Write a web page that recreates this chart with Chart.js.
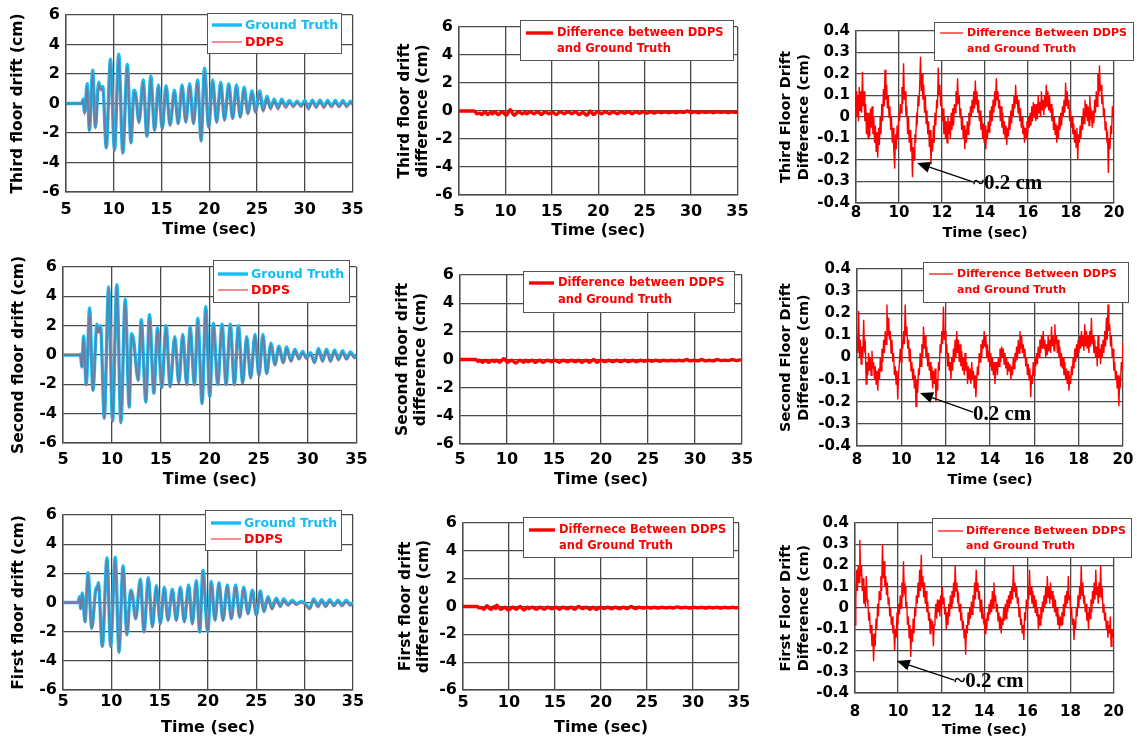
<!DOCTYPE html>
<html>
<head>
<meta charset="utf-8">
<title>Floor drift: DDPS vs ground truth</title>
<script src="https://cdn.jsdelivr.net/npm/chart.js@4.4.1/dist/chart.umd.min.js"></script>
<style>
  html, body { margin: 0; padding: 0; background: #fff; }
  #fig { position: relative; width: 1137px; height: 740px; overflow: hidden; background: #fff; }
  #fig canvas { position: absolute; }
</style>
</head>
<body>
<div id="fig"></div>
<script>
// ---------- tick values ----------
const fullTimeTicks = [5, 10, 15, 20, 25, 30, 35];
const zoomTimeTicks = [8, 10, 12, 14, 16, 18, 20];
const driftTicks = [-6, -4, -2, 0, 2, 4, 6];
const zoomDiffTicks = [-0.4, -0.3, -0.2, -0.1, 0, 0.1, 0.2, 0.3, 0.4];

// ---------- third floor: peak / trough times (s) and drift (cm) ----------
const t3 = [5, 6.65, 6.8, 6.95, 7.22, 7.45, 7.8, 8.08, 8.42, 8.62,
  8.85, 9.22, 9.65, 10.08, 10.52, 10.95, 11.42, 11.8, 12.12, 12.3,
  12.65, 13.08, 13.48, 13.88, 14.28, 14.68, 15.08, 15.48, 15.9, 16.35,
  16.75, 17.15, 17.55, 17.95, 18.35, 18.78, 19.15, 19.5, 19.95, 20.35,
  20.78, 21.2, 21.6, 22.05, 22.45, 22.85, 23.25, 23.65, 24.05, 24.48,
  24.85, 25.28, 25.65, 26.05, 26.42, 26.8, 27.2, 27.6, 28.0, 28.4,
  28.8, 29.2, 29.6, 30.0, 30.4, 30.8, 31.2, 31.6, 32.0, 32.4,
  32.8, 33.2, 33.6, 34.0, 34.4, 34.8, 35];
const gt3 = [0, 0, 0.3, -0.6, 1.35, -1.8, 2.25, -1.6, 1.45, 1.0,
  1.15, -3.0, 3.0, -3.15, 3.35, -3.35, 2.65, -2.65, 0.9, 0.65,
  -1.25, 1.6, -2.2, 1.85, -1.8, 1.25, -1.7, 1.2, -1.45, 0.9,
  -1.35, 1.25, -1.25, 1.35, -1.35, 1.6, -2.5, 2.4, -1.6, 1.6,
  -1.25, 1.45, -1.1, 1.35, -1.0, 1.25, -0.9, 1.1, -0.65, 0.85,
  -0.55, 0.85, -0.45, 0.5, -0.3, 0.3, -0.3, 0.3, -0.2, 0.2,
  -0.15, 0.15, -0.15, 0.2, -0.3, 0.22, -0.2, 0.22, -0.2, 0.2,
  -0.18, 0.2, -0.18, 0.2, -0.15, 0.15, 0];
const ddps3 = [0, 0, 0.2, -0.8, 1.2, -1.95, 2.1, -1.75, 1.3, 0.85,
  1.0, -3.1, 2.85, -3.25, 3.15, -3.45, 2.5, -2.75, 0.75, 0.5,
  -1.4, 1.45, -2.3, 1.7, -1.9, 1.1, -1.8, 1.05, -1.55, 0.75,
  -1.45, 1.1, -1.35, 1.2, -1.45, 1.45, -2.65, 2.2, -1.75, 1.45,
  -1.35, 1.3, -1.2, 1.2, -1.1, 1.1, -1.0, 0.95, -0.8, 0.7,
  -0.7, 0.7, -0.6, 0.35, -0.45, 0.15, -0.45, 0.15, -0.35, 0.05,
  -0.3, 0.05, -0.25, 0.05, -0.45, 0.1, -0.35, 0.1, -0.35, 0.08,
  -0.3, 0.08, -0.3, 0.08, -0.3, 0.05, -0.15];
const diff3 = [0, 0, -0.1, -0.2, -0.15, -0.25, -0.05, -0.25, -0.1, -0.2,
  -0.05, -0.25, -0.05, -0.3, 0.1, -0.3, -0.05, -0.2, -0.1, -0.2,
  -0.05, -0.2, -0.05, -0.25, -0.05, -0.2, -0.1, -0.25, -0.05, -0.2,
  -0.05, -0.2, -0.05, -0.25, -0.1, -0.3, 0.0, -0.25, -0.05, -0.2,
  -0.05, -0.2, -0.05, -0.2, -0.05, -0.15, -0.05, -0.2, -0.05, -0.15,
  -0.05, -0.15, -0.05, -0.15, -0.05, -0.12, -0.05, -0.12, -0.05, -0.12,
  -0.05, -0.1, 0.0, -0.12, -0.05, -0.12, -0.05, -0.1, -0.05, -0.12,
  -0.05, -0.1, -0.05, -0.12, -0.05, -0.1, -0.08];

// ---------- second floor ----------
const t2 = [5, 6.7, 6.77, 6.94, 7.1, 7.38, 7.72, 8.06, 8.47, 8.65,
  8.84, 9.22, 9.66, 10.07, 10.5, 10.92, 11.36, 11.77, 12.0, 12.21,
  12.69, 13.0, 13.47, 13.84, 14.29, 14.66, 15.1, 15.54, 15.95, 16.43,
  16.84, 17.24, 17.65, 17.99, 18.44, 18.78, 19.22, 19.59, 20.0, 20.37,
  20.82, 21.26, 21.67, 22.1, 22.52, 22.93, 23.37, 23.78, 24.18, 24.63,
  25.03, 25.44, 25.82, 26.26, 26.67, 27.07, 27.52, 27.86, 28.3, 28.71,
  29.12, 29.49, 29.9, 30.31, 30.71, 31.12, 31.53, 31.94, 32.35, 32.76,
  33.16, 33.57, 33.98, 34.39, 34.8, 35];
const gt2 = [0, 0, 0.05, -0.8, 1.3, -2.0, 3.2, -2.4, 2.1, 1.6,
  2.0, -4.3, 4.65, -4.5, 4.8, -4.6, 3.8, -3.55, 1.45, 1.05,
  -1.7, 2.4, -3.2, 2.75, -2.6, 1.85, -2.2, 2.0, -2.15, 1.25,
  -1.9, 1.4, -2.0, 1.9, -2.0, 2.5, -3.3, 3.3, -2.85, 2.15,
  -2.0, 2.1, -2.0, 2.1, -2.0, 2.0, -1.9, 1.25, -1.55, 1.4,
  -1.4, 1.4, -1.25, 0.8, -0.65, 0.6, -0.5, 0.55, -0.4, 0.4,
  -0.25, 0.25, -0.2, 0.15, -0.5, 0.45, -0.4, 0.4, -0.4, 0.35,
  -0.3, 0.3, -0.25, 0.2, -0.15, 0];
const ddps2 = [0, 0, 0.0, -0.9, 1.2, -2.15, 3.1, -2.5, 2.0, 1.5,
  1.9, -4.4, 4.55, -4.6, 4.7, -4.7, 3.7, -3.65, 1.35, 0.95,
  -1.8, 2.3, -3.3, 2.65, -2.7, 1.75, -2.3, 1.9, -2.25, 1.15,
  -2.0, 1.3, -2.1, 1.8, -2.1, 2.4, -3.4, 3.2, -2.95, 2.05,
  -2.1, 2.0, -2.1, 2.0, -2.1, 1.9, -2.0, 1.15, -1.65, 1.3,
  -1.5, 1.3, -1.35, 0.7, -0.75, 0.5, -0.6, 0.45, -0.5, 0.3,
  -0.35, 0.15, -0.3, 0.05, -0.6, 0.35, -0.5, 0.3, -0.5, 0.25,
  -0.4, 0.2, -0.35, 0.1, -0.25, -0.1];
const diff2 = [0, 0, -0.05, -0.15, -0.05, -0.2, -0.05, -0.2, -0.05, -0.15,
  -0.05, -0.2, 0.05, -0.2, -0.05, -0.25, -0.05, -0.2, -0.05, -0.15,
  -0.05, -0.2, -0.05, -0.2, -0.05, -0.15, -0.05, -0.2, -0.05, -0.15,
  -0.05, -0.15, -0.05, -0.2, -0.05, -0.2, 0.0, -0.2, -0.05, -0.15,
  -0.05, -0.15, -0.05, -0.15, -0.05, -0.15, -0.05, -0.15, -0.05, -0.12,
  -0.05, -0.12, -0.05, -0.12, -0.05, -0.1, -0.05, -0.1, -0.05, -0.1,
  0.0, -0.1, -0.05, -0.1, 0.0, -0.1, -0.05, -0.1, 0.0, -0.08,
  -0.05, -0.08, 0.0, -0.08, -0.03, -0.05];

// ---------- first floor ----------
const t1 = [5, 6.55, 6.72, 6.83, 7.0, 7.28, 7.59, 7.97, 8.45, 8.55,
  8.66, 9.07, 9.55, 9.93, 10.41, 10.79, 11.21, 11.62, 12.0, 12.17,
  12.52, 13.0, 13.38, 13.83, 14.24, 14.66, 15.07, 15.48, 15.86, 16.31,
  16.72, 17.14, 17.55, 18.0, 18.38, 18.79, 19.14, 19.48, 19.97, 20.34,
  20.72, 21.14, 21.55, 22.0, 22.41, 22.86, 23.28, 23.69, 24.14, 24.59,
  25.0, 25.41, 25.79, 26.21, 26.62, 27.07, 27.48, 27.83, 28.28, 28.72,
  29.14, 29.66, 30.1, 30.52, 30.93, 31.38, 31.76, 32.17, 32.59, 33.03,
  33.45, 33.86, 34.31, 34.72, 35];
const gt1 = [0, 0, 0.4, -0.4, 0.65, -1.3, 2.05, -1.75, 1.05, 0.95,
  1.35, -3.0, 3.05, -3.0, 3.1, -3.4, 2.5, -2.2, 0.85, 0.6,
  -1.1, 1.6, -2.0, 1.7, -1.65, 1.15, -1.45, 1.05, -1.2, 0.92,
  -1.2, 1.05, -1.3, 1.2, -1.45, 1.5, -2.0, 2.2, -2.0, 1.45,
  -1.2, 1.35, -1.2, 1.2, -1.1, 1.2, -1.0, 1.05, -0.75, 0.85,
  -0.85, 0.8, -0.6, 0.4, -0.4, 0.3, -0.25, 0.25, -0.15, 0.15,
  -0.1, 0.08, -0.1, -0.4, 0.25, -0.25, 0.2, -0.25, 0.2, -0.2,
  0.15, -0.2, 0.15, -0.15, 0];
const ddps1 = [0, 0, 0.3, -0.5, 0.55, -1.4, 1.95, -1.85, 0.95, 0.85,
  1.25, -3.1, 2.95, -3.1, 3.0, -3.5, 2.4, -2.3, 0.75, 0.5,
  -1.2, 1.5, -2.1, 1.6, -1.75, 1.05, -1.55, 0.95, -1.3, 0.82,
  -1.3, 0.95, -1.4, 1.1, -1.55, 1.4, -2.1, 2.1, -2.1, 1.35,
  -1.3, 1.25, -1.3, 1.1, -1.2, 1.1, -1.1, 0.95, -0.85, 0.75,
  -0.95, 0.7, -0.7, 0.3, -0.5, 0.2, -0.35, 0.15, -0.25, 0.05,
  -0.2, -0.02, -0.2, -0.5, 0.15, -0.35, 0.1, -0.35, 0.1, -0.3,
  0.05, -0.3, 0.05, -0.25, -0.1];
const diff1 = [0, 0, -0.1, -0.1, -0.1, -0.2, 0.05, -0.2, 0.0, -0.15,
  0.1, -0.2, -0.05, -0.25, -0.05, -0.2, 0.0, -0.25, -0.05, -0.15,
  -0.05, -0.2, -0.05, -0.2, -0.05, -0.15, -0.05, -0.2, -0.05, -0.15,
  -0.05, -0.2, 0.0, -0.15, -0.05, -0.2, -0.05, -0.2, -0.05, -0.15,
  -0.05, -0.15, -0.05, -0.15, -0.05, -0.15, 0.0, -0.15, -0.05, -0.12,
  -0.05, -0.12, -0.05, -0.12, -0.05, -0.1, -0.05, -0.12, -0.03, -0.1,
  -0.05, -0.12, -0.05, -0.1, -0.05, -0.12, -0.05, -0.1, -0.05, -0.12,
  -0.05, -0.1, -0.05, -0.1, -0.05];

// ---------- 8-20 s close-up of the difference (cm), one sample every 0.0375 s ----------
const zoomStart = 8;
const zoomStep = 0.0375;
const zoomDiff3 = [
  0.12, 0.0, 0.1, -0.02, 0.14, 0.03, 0.12, 0.02,
  0.21, 0.05, 0.12, -0.02, 0.06, -0.08, 0.02, -0.1,
  0.02, -0.09, 0.04, -0.05, 0.05, -0.08, 0.0, -0.12,
  -0.04, -0.16, -0.07, -0.19, -0.05, -0.13, 0.0, -0.08,
  0.06, -0.02, 0.13, 0.05, 0.22, 0.08, 0.15, 0.04,
  0.1, 0.0, 0.05, -0.06, 0.0, -0.12, -0.05, -0.16,
  -0.24, -0.08, -0.15, -0.04, -0.1, 0.02, -0.02, 0.06,
  0.02, 0.14, 0.06, 0.25, 0.08, 0.12, 0.0, 0.05,
  -0.08, 0.0, -0.12, -0.06, -0.16, -0.1, -0.28, -0.14,
  -0.2, -0.08, -0.12, 0.0, -0.02, 0.1, 0.05, 0.15,
  0.28, 0.12, 0.2, 0.08, 0.15, 0.02, 0.1, -0.03,
  0.03, -0.08, -0.02, -0.14, -0.06, -0.22, -0.1, -0.16,
  -0.04, -0.12, 0.02, -0.04, 0.08, 0.04, 0.23, 0.1,
  0.15, 0.05, 0.1, -0.02, 0.04, -0.08, 0.0, -0.1,
  -0.02, -0.12, 0.0, -0.08, -0.02, -0.1, 0.02, -0.06,
  0.04, -0.04, 0.06, 0.02, 0.12, 0.05, 0.18, 0.06,
  0.1, 0.0, 0.04, -0.06, 0.0, -0.1, -0.04, -0.15,
  -0.06, -0.12, -0.02, -0.08, 0.02, -0.04, 0.05, 0.0,
  0.08, 0.02, 0.12, 0.04, 0.17, 0.06, 0.12, 0.02,
  0.08, -0.02, 0.03, -0.06, 0.0, -0.1, -0.03, -0.12,
  -0.04, -0.15, -0.06, -0.1, -0.02, -0.07, 0.03, -0.04,
  0.05, -0.02, 0.08, 0.02, 0.12, 0.05, 0.18, 0.08,
  0.12, 0.04, 0.08, -0.02, 0.05, -0.05, 0.02, -0.08,
  -0.02, -0.1, -0.04, -0.13, -0.05, -0.09, 0.0, -0.06,
  0.03, -0.03, 0.06, 0.0, 0.1, 0.04, 0.15, 0.06,
  0.1, 0.02, 0.08, -0.02, 0.04, -0.05, 0.0, -0.08,
  -0.04, -0.12, -0.05, -0.1, -0.02, -0.08, 0.0, -0.05,
  0.02, -0.04, 0.05, -0.02, 0.07, 0.0, 0.06, -0.02,
  0.06, -0.01, 0.1, 0.02, 0.07, 0.0, 0.12, 0.03,
  0.08, 0.01, 0.1, 0.04, 0.15, 0.05, 0.12, 0.03,
  0.1, 0.02, 0.06, -0.02, 0.04, -0.06, 0.0, -0.08,
  -0.03, -0.12, -0.04, -0.1, 0.0, -0.06, 0.02, -0.04,
  0.05, 0.0, 0.08, 0.02, 0.16, 0.05, 0.12, 0.04,
  0.08, -0.02, 0.03, -0.05, 0.0, -0.08, -0.03, -0.12,
  -0.06, -0.14, -0.05, -0.2, -0.08, -0.12, -0.04, -0.1,
  0.0, -0.06, 0.04, -0.03, 0.08, 0.0, 0.06, -0.02,
  0.05, -0.04, 0.1, 0.0, 0.02, -0.05, 0.03, -0.03,
  0.08, 0.02, 0.12, 0.05, 0.2, 0.1, 0.24, 0.12,
  0.15, 0.06, 0.1, 0.0, 0.04, -0.06, -0.02, -0.1,
  -0.08, -0.26, -0.1, -0.15, -0.04, -0.08, 0.05, 0.0,
  0.13];
const zoomDiff2 = [
  0.1, 0.02, 0.21, 0.0, 0.08, -0.03, 0.05, 0.0,
  0.17, 0.04, 0.06, -0.12, -0.02, -0.08, 0.02, -0.06,
  0.0, -0.08, 0.03, -0.05, -0.02, -0.1, -0.04, -0.12,
  -0.06, -0.15, -0.05, -0.1, 0.0, -0.06, 0.04, -0.02,
  0.08, 0.02, 0.12, 0.06, 0.24, 0.1, 0.18, 0.08,
  0.12, 0.02, 0.08, -0.02, 0.02, -0.08, -0.04, -0.12,
  -0.06, -0.19, -0.08, -0.02, 0.04, -0.02, 0.08, 0.04,
  0.12, 0.06, 0.24, 0.1, 0.14, 0.04, 0.08, -0.02,
  0.04, -0.06, -0.02, -0.1, -0.05, -0.14, -0.08, -0.22,
  -0.1, -0.16, -0.05, -0.08, 0.02, -0.04, 0.06, 0.0,
  0.14, 0.04, 0.1, 0.0, 0.05, -0.04, 0.02, -0.06,
  -0.02, -0.1, -0.04, -0.14, -0.06, -0.12, -0.05, -0.2,
  -0.1, -0.15, -0.02, -0.06, 0.06, 0.02, 0.12, 0.06,
  0.23, 0.08, 0.12, 0.02, 0.06, -0.04, 0.02, -0.06,
  -0.02, -0.1, 0.0, -0.06, 0.04, -0.02, 0.08, 0.0,
  0.12, 0.02, 0.08, -0.02, 0.06, -0.04, 0.03, -0.06,
  0.0, -0.08, 0.02, -0.06, -0.02, -0.12, -0.04, -0.1,
  -0.05, -0.12, -0.02, -0.1, -0.06, -0.14, -0.08, -0.18,
  -0.1, -0.04, -0.08, 0.02, -0.02, 0.06, 0.0, 0.08,
  0.04, 0.12, 0.05, 0.1, 0.0, 0.06, -0.02, 0.03,
  -0.04, 0.02, -0.06, 0.0, -0.08, -0.02, -0.12, -0.05,
  -0.02, -0.08, 0.0, -0.04, 0.04, -0.02, 0.05, 0.0,
  0.04, -0.03, 0.02, -0.05, 0.0, -0.08, -0.02, -0.06,
  -0.03, -0.1, -0.04, -0.08, 0.0, -0.05, 0.02, -0.02,
  0.05, -0.01, 0.08, 0.02, 0.12, 0.04, 0.1, 0.02,
  0.06, 0.0, 0.04, -0.04, 0.0, -0.08, -0.03, -0.1,
  -0.05, -0.18, -0.08, -0.12, -0.02, -0.08, 0.0, -0.04,
  0.02, -0.03, 0.05, 0.0, 0.08, 0.02, 0.1, 0.04,
  0.12, 0.04, 0.08, 0.0, 0.06, 0.01, 0.1, 0.03,
  0.08, 0.02, 0.14, 0.05, 0.1, 0.03, 0.15, 0.06,
  0.1, 0.02, 0.08, 0.0, 0.05, -0.04, 0.02, -0.05,
  0.0, -0.08, -0.02, -0.1, -0.05, -0.12, -0.06, -0.15,
  -0.08, -0.12, -0.04, -0.08, 0.0, -0.05, 0.04, -0.02,
  0.06, 0.0, 0.08, 0.02, 0.1, 0.04, 0.12, 0.05,
  0.1, 0.03, 0.15, 0.05, 0.12, 0.04, 0.1, 0.02,
  0.12, 0.05, 0.18, 0.06, 0.1, 0.02, 0.08, 0.0,
  0.05, -0.04, 0.1, 0.0, 0.04, -0.03, 0.06, 0.0,
  0.08, 0.02, 0.12, 0.05, 0.18, 0.08, 0.24, 0.12,
  0.15, 0.05, 0.1, 0.0, 0.04, -0.06, -0.02, -0.1,
  -0.06, -0.14, -0.08, -0.22, -0.1, -0.12, -0.02, -0.06,
  0.07];
const zoomDiff1 = [
  -0.08, 0.05, 0.18, 0.08, 0.2, 0.12, 0.32, 0.15,
  0.2, 0.08, 0.14, 0.02, 0.1, 0.0, 0.15, 0.04,
  0.02, -0.06, -0.02, -0.12, -0.08, -0.18, -0.12, -0.25,
  -0.12, -0.18, -0.05, -0.1, 0.02, -0.04, 0.08, 0.04,
  0.15, 0.08, 0.3, 0.14, 0.22, 0.1, 0.15, 0.06,
  0.12, 0.02, 0.05, -0.04, 0.0, -0.08, -0.04, -0.12,
  -0.08, -0.2, -0.1, -0.14, -0.02, -0.08, 0.02, -0.03,
  0.06, 0.0, 0.12, 0.05, 0.22, 0.08, 0.1, 0.0,
  0.03, -0.08, -0.04, -0.14, -0.08, -0.23, -0.1, -0.16,
  -0.05, -0.12, 0.0, -0.04, 0.06, 0.02, 0.12, 0.05,
  0.18, 0.08, 0.25, 0.1, 0.15, 0.05, 0.12, 0.02,
  0.08, -0.02, 0.03, -0.06, -0.02, -0.12, -0.05, -0.1,
  -0.06, -0.18, -0.08, -0.04, 0.02, -0.05, 0.04, -0.02,
  0.04, -0.04, 0.06, 0.0, 0.1, 0.02, 0.05, -0.03,
  0.0, -0.1, -0.02, -0.08, 0.02, -0.04, 0.06, 0.0,
  0.08, 0.02, 0.12, 0.05, 0.2, 0.08, 0.12, 0.04,
  0.06, -0.02, 0.02, -0.06, -0.02, -0.1, -0.06, -0.14,
  -0.1, -0.22, -0.08, -0.12, -0.02, -0.08, 0.0, -0.05,
  0.03, -0.03, 0.06, 0.0, 0.12, 0.04, 0.18, 0.08,
  0.12, 0.04, 0.08, -0.02, 0.04, -0.05, 0.0, -0.06,
  -0.04, -0.12, -0.05, -0.1, -0.02, -0.06, 0.02, -0.03,
  0.04, -0.02, 0.08, 0.0, 0.12, 0.03, 0.06, -0.02,
  0.02, -0.06, -0.02, -0.1, -0.04, -0.12, -0.05, -0.08,
  0.0, -0.06, 0.02, -0.05, 0.04, -0.02, 0.06, 0.0,
  0.08, 0.02, 0.1, 0.04, 0.2, 0.08, 0.12, 0.05,
  0.1, 0.02, 0.05, -0.04, 0.0, -0.08, -0.05, -0.12,
  -0.08, -0.15, -0.02, -0.06, 0.04, 0.0, 0.1, 0.04,
  0.18, 0.06, 0.1, 0.02, 0.08, 0.0, 0.06, -0.02,
  0.04, -0.04, 0.0, -0.1, -0.03, -0.08, 0.0, -0.05,
  0.03, -0.02, 0.06, 0.0, 0.1, 0.02, 0.15, 0.05,
  0.1, 0.02, 0.12, 0.04, 0.08, 0.0, 0.06, -0.02,
  0.04, -0.04, 0.0, -0.08, -0.03, -0.1, -0.04, -0.08,
  -0.02, -0.08, 0.02, -0.04, 0.06, 0.0, 0.08, 0.02,
  0.15, 0.04, 0.06, -0.04, 0.0, -0.08, -0.05, -0.15,
  -0.06, -0.1, 0.0, -0.04, 0.06, 0.0, 0.1, 0.04,
  0.2, 0.06, 0.12, 0.02, 0.06, -0.02, 0.02, -0.06,
  -0.02, -0.1, 0.0, -0.05, 0.04, -0.02, 0.08, 0.02,
  0.12, 0.04, 0.18, 0.06, 0.1, 0.02, 0.12, 0.05,
  0.2, 0.06, 0.08, -0.02, 0.02, -0.06, -0.02, -0.1,
  -0.06, -0.14, -0.08, -0.12, -0.04, -0.18, -0.1, -0.14,
  -0.1];

// ---------- styling ----------
const FONT = '"DejaVu Sans", "Liberation Sans", sans-serif';
const GT_COLOR = '#14bdf2';
const DDPS_COLOR = 'rgba(240, 30, 50, 0.42)';
const RED = '#ff0000';
const GRID = '#4a4a4a';

Chart.defaults.font.family = FONT;
Chart.defaults.color = '#000';

const pts = (ts, vs) => ts.map((t, i) => ({ x: t, y: vs[i] }));
const zoomPts = vs => vs.map((v, i) => ({ x: +(zoomStart + i * zoomStep).toFixed(4), y: v }));

function comparisonSets(ts, gt, dd) {
  return [
    { label: 'Ground Truth', data: pts(ts, gt), borderColor: GT_COLOR, borderWidth: 3.4,
      cubicInterpolationMode: 'monotone', order: 1 },
    { label: 'DDPS', data: pts(ts, dd), borderColor: DDPS_COLOR, borderWidth: 1.8,
      cubicInterpolationMode: 'monotone', order: 0 }
  ];
}
function diffSet(ts, vs) {
  return [{ label: 'Difference between DDPS and Ground Truth', data: pts(ts, vs), borderColor: RED,
    borderWidth: 3.4, cubicInterpolationMode: 'monotone' }];
}
function zoomSet(vs) {
  return [{ label: 'Difference Between DDPS and Ground Truth', data: zoomPts(vs), borderColor: RED,
    borderWidth: 1.4, tension: 0 }];
}
function pairLegend(box, lineX, textX, rows, size) {
  return { box, lineX, textX, size, rows: [
    { y: rows[0], text: 'Ground Truth', color: GT_COLOR, line: { color: GT_COLOR, width: 3.4 } },
    { y: rows[1], text: 'DDPS', color: RED, line: { color: 'rgba(240, 60, 70, 0.6)', width: 2 } }
  ]};
}
function diffLegend(box, lineX, textX, rows, size, first, width) {
  return { box, lineX, textX, size, rows: [
    { y: rows[0], text: first, color: RED, line: { color: RED, width } },
    { y: rows[1], text: 'and Ground Truth', color: RED, line: null }
  ]};
}

const full = { xTicks: fullTimeTicks, xMin: 5, xMax: 35, yTicks: driftTicks, yMin: -6, yMax: 6,
  tickSize: 16, yTitleSize: 15.5, xTitleSize: 16, yLh: 1.16 };
const zoom = { xTicks: zoomTimeTicks, xMin: 8, xMax: 20, yTicks: zoomDiffTicks, yMin: -0.4, yMax: 0.4,
  tickSize: 15, yTitleSize: 14.5, xTitleSize: 14.5, yLh: 1.24 };

const panels = [
  // row 1: third floor
  { ...full, plot: { L: 66, T: 15, R: 354, B: 192 }, yTitleX: 18, xTitleY: 230, tickY: 210,
    yTitle: 'Third floor drift (cm)', datasets: comparisonSets(t3, gt3, ddps3),
    legend: pairLegend([207, 13, 341, 53], [212, 242], 245, [25, 42], 12.5) },
  { ...full, plot: { L: 459, T: 27, R: 738, B: 195 }, yTitleX: 405, xTitleY: 231, tickY: 212,
    yTitle: ['Third floor drift', 'difference (cm)'], datasets: diffSet(t3, diff3),
    legend: diffLegend([520, 20, 733, 60], [526, 553], 557, [33, 49], 11.5, 'Difference between DDPS', 3.4) },
  { ...zoom, plot: { L: 856, T: 31, R: 1114, B: 203 }, yTitleX: 786, xTitleY: 233, tickY: 213,
    yTitle: ['Third Floor Drift', 'Difference (cm)'], datasets: zoomSet(zoomDiff3),
    legend: diffLegend([934, 22, 1133, 60], [940, 963], 967, [33, 49], 11, 'Difference Between DDPS', 1.2),
    note: { tip: [10.84, -0.214], tail: [13.44, -0.302], text: '~0.2 cm' } },
  // row 2: second floor
  { ...full, plot: { L: 63, T: 267, R: 357, B: 443 }, yTitleX: 19, xTitleY: 480, tickY: 460,
    yTitle: 'Second floor drift (cm)', datasets: comparisonSets(t2, gt2, ddps2),
    legend: pairLegend([213, 260, 349, 302], [218, 248], 251, [274, 290], 12.5) },
  { ...full, plot: { L: 460, T: 275, R: 742, B: 444 }, yTitleX: 403, xTitleY: 480, tickY: 460,
    yTitle: ['Second floor drift', 'difference (cm)'], datasets: diffSet(t2, diff2),
    legend: diffLegend([523, 271, 734, 312], [529, 554], 558, [283, 300], 11.5, 'Difference between DDPS', 3.4) },
  { ...zoom, plot: { L: 857, T: 269, R: 1123, B: 446 }, yTitleX: 786, xTitleY: 480, tickY: 460,
    yTitle: ['Second Floor Drift', 'Difference (cm)'], datasets: zoomSet(zoomDiff2),
    legend: diffLegend([923, 262, 1128, 302], [929, 953], 957, [274, 290], 11, 'Difference Between DDPS', 1.2),
    note: { tip: [10.84, -0.161], tail: [13.23, -0.247], text: '0.2 cm' } },
  // row 3: first floor
  { ...full, plot: { L: 63, T: 515, R: 353, B: 690 }, yTitleX: 19, xTitleY: 728, tickY: 702,
    yTitle: 'First floor drift (cm)', datasets: comparisonSets(t1, gt1, ddps1),
    legend: pairLegend([205, 510, 341, 550], [211, 241], 244, [523, 539], 12.5) },
  { ...full, plot: { L: 463, T: 523, R: 739, B: 690 }, yTitleX: 406, xTitleY: 728, tickY: 703,
    yTitle: ['First floor drift', 'difference (cm)'], datasets: diffSet(t1, diff1),
    legend: diffLegend([523, 517, 733, 557], [529, 555], 559, [530, 546], 11.5, 'Differnece Between DDPS', 3.4) },
  { ...zoom, plot: { L: 855, T: 523, R: 1115, B: 693 }, yTitleX: 786, xTitleY: 730, tickY: 712,
    yTitle: ['First Floor Drift', 'Difference (cm)'], datasets: zoomSet(zoomDiff1),
    legend: diffLegend([932, 518, 1131, 557], [938, 963], 966, [531, 546], 11, 'Difference Between DDPS', 1.2),
    note: { tip: [9.94, -0.249], tail: [12.61, -0.339], text: '~0.2 cm' } }
];

// legend box and arrow note, drawn over the data
function drawDecor(chart, p, ox, oy) {
  const ctx = chart.ctx;
  const lg = p.legend;
  ctx.save();
  const [x0, y0, x1, y1] = lg.box;
  ctx.fillStyle = '#fff';
  ctx.fillRect(x0 - ox, y0 - oy, x1 - x0, y1 - y0);
  ctx.strokeStyle = '#555';
  ctx.lineWidth = 1;
  ctx.strokeRect(x0 - ox + 0.5, y0 - oy + 0.5, x1 - x0, y1 - y0);
  ctx.font = `bold ${lg.size}px ${FONT}`;
  ctx.textBaseline = 'middle';
  ctx.textAlign = 'left';
  for (const r of lg.rows) {
    if (r.line) {
      ctx.strokeStyle = r.line.color;
      ctx.lineWidth = r.line.width;
      ctx.beginPath();
      ctx.moveTo(lg.lineX[0] - ox, r.y - oy);
      ctx.lineTo(lg.lineX[1] - ox, r.y - oy);
      ctx.stroke();
    }
    ctx.fillStyle = r.color;
    ctx.fillText(r.text, lg.textX - ox, r.y - oy + 0.5);
  }
  if (p.note) {
    const sx = chart.scales.x, sy = chart.scales.y;
    const tx = sx.getPixelForValue(p.note.tip[0]), ty = sy.getPixelForValue(p.note.tip[1]);
    const bx = sx.getPixelForValue(p.note.tail[0]), by = sy.getPixelForValue(p.note.tail[1]);
    const ang = Math.atan2(ty - by, tx - bx);
    const head = 13, half = 5.5;
    const hx = tx - head * Math.cos(ang), hy = ty - head * Math.sin(ang);
    ctx.strokeStyle = '#000';
    ctx.lineWidth = 1.3;
    ctx.beginPath();
    ctx.moveTo(bx, by);
    ctx.lineTo(hx, hy);
    ctx.stroke();
    ctx.fillStyle = '#000';
    ctx.beginPath();
    ctx.moveTo(tx, ty);
    ctx.lineTo(hx + half * Math.sin(ang), hy - half * Math.cos(ang));
    ctx.lineTo(hx - half * Math.sin(ang), hy + half * Math.cos(ang));
    ctx.closePath();
    ctx.fill();
    ctx.font = 'bold 21px "Liberation Serif", "DejaVu Serif", serif';
    ctx.textBaseline = 'middle';
    ctx.fillText(p.note.text, bx, by + 2);
  }
  ctx.restore();
}

const fig = document.getElementById('fig');

function mountPanel(p) {
  const { L, T, R, B } = p.plot;
  const lhY = p.yTitleSize * p.yLh;
  const lhX = p.xTitleSize * 1.2;
  const lhTick = p.tickSize * 1.2;
  const cx = Math.floor(p.yTitleX - lhY / 2) - 2;
  const cy = T - 16;
  const right = Math.ceil(Math.max(R + 18, p.legend.box[2] + 3));
  const xAxisBottom = p.xTitleY + lhX / 2;
  const bottom = Math.ceil(xAxisBottom) + 3;
  const w = right - cx, h = bottom - cy;

  const canvas = document.createElement('canvas');
  canvas.width = w;
  canvas.height = h;
  canvas.style.left = cx + 'px';
  canvas.style.top = cy + 'px';
  canvas.style.width = w + 'px';
  canvas.style.height = h + 'px';
  fig.appendChild(canvas);

  const gridOpts = { color: GRID, lineWidth: 1.3, drawTicks: false };
  const borderOpts = { display: true, color: GRID, width: 1.4 };

  new Chart(canvas, {
    type: 'line',
    data: { datasets: p.datasets },
    options: {
      responsive: false,
      animation: false,
      devicePixelRatio: 1,
      elements: { point: { radius: 0, hoverRadius: 0 }, line: { fill: false } },
      layout: { padding: { left: 0, top: T - cy, right: right - R, bottom: bottom - xAxisBottom } },
      plugins: { legend: { display: false }, tooltip: { enabled: false } },
      events: [],
      scales: {
        x: {
          type: 'linear', min: p.xMin, max: p.xMax,
          afterBuildTicks: s => { s.ticks = p.xTicks.map(v => ({ value: v })); },
          afterFit: s => { s.height = xAxisBottom - B; },
          grid: gridOpts, border: borderOpts,
          ticks: { autoSkip: false, maxRotation: 0, padding: p.tickY - B - lhTick / 2,
            font: { size: p.tickSize, weight: 'bold', lineHeight: 1.2 }, color: '#000',
            callback: v => String(v) },
          title: { display: true, text: 'Time (sec)', color: '#000', padding: { top: 0, bottom: 0 },
            font: { size: p.xTitleSize, weight: 'bold', lineHeight: 1.2 } }
        },
        y: {
          type: 'linear', min: p.yMin, max: p.yMax,
          afterBuildTicks: s => { s.ticks = p.yTicks.map(v => ({ value: v })); },
          afterFit: s => { s.width = L - cx; },
          grid: gridOpts, border: borderOpts,
          ticks: { autoSkip: false, padding: 6,
            font: { size: p.tickSize, weight: 'bold', lineHeight: 1.2 }, color: '#000',
            callback: v => String(Math.round(v * 10) / 10) },
          title: { display: true, text: p.yTitle, color: '#000',
            padding: { top: p.yTitleX - lhY / 2 - cx, bottom: 0 },
            font: { size: p.yTitleSize, weight: 'bold', lineHeight: p.yLh } }
        }
      }
    },
    plugins: [{ id: 'panelDecor', afterDatasetsDraw: chart => drawDecor(chart, p, cx, cy) }]
  });
}

panels.forEach(mountPanel);
</script>
</body>
</html>
